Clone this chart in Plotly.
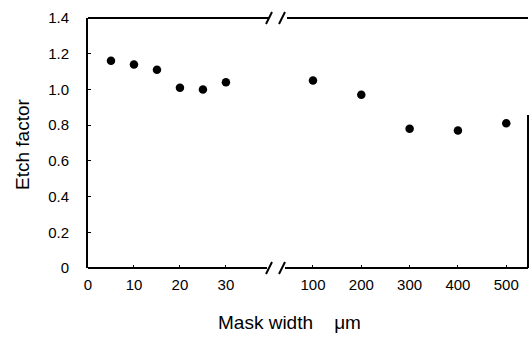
import plotly.graph_objects as go

# Data
x_left = [5, 10, 15, 20, 25, 30]
y_left = [1.16, 1.14, 1.11, 1.01, 1.00, 1.04]
x_right = [100, 200, 300, 400, 500]
y_right = [1.05, 0.97, 0.78, 0.77, 0.81]
xticks_left = [0, 10, 20, 30]
xticks_right = [100, 200, 300, 400, 500]
yticks = [0, 0.2, 0.4, 0.6, 0.8, 1.0, 1.2, 1.4]
yticktext = ["0", "0.2", "0.4", "0.6", "0.8", "1.0", "1.2", "1.4"]

W, H = 531, 346
L, R, T, B = 88, 528, 18, 268
pw, ph = R - L, B - T

def px(x):
    return (x - L) / pw

def py(y):
    return (B - y) / ph

d1 = px(265)
d2 = px(284)

fig = go.Figure()
marker = dict(color="black", size=8.5)
fig.add_trace(go.Scatter(x=x_left, y=y_left, mode="markers", marker=marker,
                         xaxis="x", yaxis="y", showlegend=False))
fig.add_trace(go.Scatter(x=x_right, y=y_right, mode="markers", marker=marker,
                         xaxis="x2", yaxis="y", showlegend=False))

FAM = "Liberation Sans, Arial, sans-serif"
font = dict(family=FAM, size=15, color="black")

fig.update_layout(
    width=W, height=H,
    margin=dict(l=L, r=W - R, t=T, b=H - B),
    plot_bgcolor="white", paper_bgcolor="white",
    font=font,
    xaxis=dict(domain=[0, d1], range=[0, 38.5], tickvals=xticks_left,
               showgrid=False, zeroline=False, showline=False,
               ticks="inside", ticklen=3, tickcolor="black",
               ticklabelstandoff=6, anchor="y"),
    xaxis2=dict(domain=[d2, 1], range=[40, 545], tickvals=xticks_right,
                showgrid=False, zeroline=False, showline=False,
                ticks="inside", ticklen=3, tickcolor="black",
                ticklabelstandoff=6, anchor="y"),
    yaxis=dict(range=[0, 1.4], tickvals=yticks, ticktext=yticktext,
               showgrid=False, zeroline=False, showline=True, linecolor="black",
               linewidth=2, ticks="inside", ticklen=3, tickcolor="black",
               ticklabelstandoff=14),
)

shapes = []
lw = 2
# bottom line segments
shapes.append(dict(type="line", xref="paper", yref="paper", x0=0, x1=px(267), y0=0, y1=0,
                   line=dict(color="black", width=lw)))
shapes.append(dict(type="line", xref="paper", yref="paper", x0=px(285), x1=1, y0=0, y1=0,
                   line=dict(color="black", width=lw)))
# top line segments
shapes.append(dict(type="line", xref="paper", yref="paper", x0=0, x1=px(269), y0=1, y1=1,
                   line=dict(color="black", width=lw)))
shapes.append(dict(type="line", xref="paper", yref="paper", x0=px(287), x1=1, y0=1, y1=1,
                   line=dict(color="black", width=lw)))
# break slashes
for yc in (T, B):
    for xs in (266, 279):
        shapes.append(dict(type="line", xref="paper", yref="paper",
                           x0=px(xs), y0=py(yc + 6), x1=px(xs + 6), y1=py(yc - 6),
                           line=dict(color="black", width=lw)))
# right border (partial)
shapes.append(dict(type="line", xref="paper", yref="paper", x0=1, x1=1, y0=0, y1=py(115),
                   line=dict(color="black", width=lw)))
fig.update_layout(shapes=shapes)

fig.add_annotation(text="Mask width\u00a0\u00a0\u00a0\u00a0μm", xref="paper", yref="paper",
                   x=px(289), y=py(322), xanchor="center", yanchor="middle", showarrow=False,
                   font=dict(family=FAM, size=19, color="black"))
fig.add_annotation(text="Etch factor", xref="paper", yref="paper",
                   x=px(22), y=py(145), xanchor="center", yanchor="middle",
                   showarrow=False, textangle=-90,
                   font=dict(family=FAM, size=19, color="black"))

fig.write_html("out.html")
